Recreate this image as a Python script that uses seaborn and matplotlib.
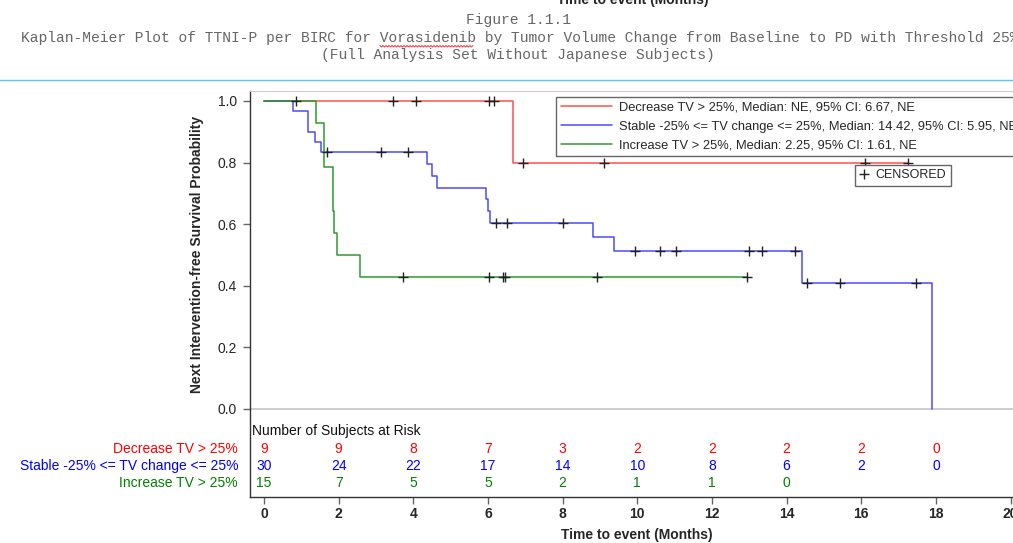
import numpy as np
import pandas as pd
import matplotlib
matplotlib.use("Agg")
import matplotlib.pyplot as plt
import matplotlib.transforms as mtransforms
from matplotlib.lines import Line2D
import seaborn as sns

# ---------------- data ----------------
groups = ["Decrease TV > 25%", "Stable -25% <= TV change <= 25%", "Increase TV > 25%"]
legend_labels = [
    "Decrease TV > 25%, Median: NE, 95% CI: 6.67, NE",
    "Stable -25% <= TV change <= 25%, Median: 14.42, 95% CI: 5.95, NE",
    "Increase TV > 25%, Median: 2.25, 95% CI: 1.61, NE",
]

red_step_t = [0, 6.67, 17.24]
red_step_s = [1.0, 0.800, 0.800]
red_censor = [3.45, 4.07, 6.02, 6.16, 6.94, 9.10, 16.09, 17.24]

blue_step_t = [0, 0.77, 1.19, 1.36, 1.53, 4.37, 4.51, 4.64, 5.95, 5.99, 6.05, 8.82, 9.37, 14.41, 17.89]
blue_step_s = [1.0, 0.967, 0.900, 0.867, 0.833, 0.795, 0.757, 0.719, 0.681, 0.643, 0.605, 0.559, 0.512, 0.409, 0.0]
blue_censor = [1.68, 3.13, 3.86, 6.22, 6.51, 8.01, 9.93, 10.60, 11.05, 12.99, 13.34, 14.23, 14.55, 15.44, 17.47]

green_step_t = [0, 1.39, 1.62, 1.84, 1.88, 1.95, 2.58, 12.93]
green_step_s = [1.0, 0.929, 0.786, 0.643, 0.571, 0.500, 0.429, 0.429]
green_censor = [0.86, 3.72, 6.02, 6.40, 6.45, 8.92, 12.93]

risk_times = [0, 2, 4, 6, 8, 10, 12, 14, 16, 18]
red_risk = [9, 9, 8, 7, 3, 2, 2, 2, 2, 0]
blue_risk = [30, 24, 22, 17, 14, 10, 8, 6, 2, 0]
green_risk = [15, 7, 5, 5, 2, 1, 1, 0]

x_ticks = list(range(0, 21, 2))
y_ticks = [0.0, 0.2, 0.4, 0.6, 0.8, 1.0]

# ---------------- style ----------------
sns.set_style("ticks")
plt.rcParams["font.family"] = ["Liberation Sans", "DejaVu Sans"]

line_colors = ["#ff5050", "#4a4aff", "#2e9a2e"]
text_colors = ["#ff0000", "#0000ff", "#008000"]

W, H = 1013, 543
fig = plt.figure(figsize=(W / 100, H / 100), dpi=100)

# axes placement in pixels
ax_left, ax_right, ax_top, ax_bottom = 249.5, 1025, 91, 497
ax = fig.add_axes([ax_left / W, 1 - ax_bottom / H, (ax_right - ax_left) / W, (ax_bottom - ax_top) / H])

px_per_month = 37.33
x0_px = 264
ax.set_xlim((ax_left - x0_px) / px_per_month, (ax_right - x0_px) / px_per_month)
px_per_unit = 308
y0_px = 409
ax.set_ylim(-(ax_bottom - y0_px) / px_per_unit, 1 + (y0_px - px_per_unit - ax_top) / px_per_unit)

ax.axhline(0, color="#c8c8c8", lw=1.3, zorder=1)

steps = [(red_step_t, red_step_s), (blue_step_t, blue_step_s), (green_step_t, green_step_s)]
censors = [red_censor, blue_censor, green_censor]

for (t, s), col in zip(steps, line_colors):
    df = pd.DataFrame({"t": t, "s": s})
    sns.lineplot(data=df, x="t", y="s", ax=ax, drawstyle="steps-post", estimator=None,
                 sort=False, color=col, lw=1.1, zorder=3)

for (t, s), c in zip(steps, censors):
    idx = np.searchsorted(np.array(t), np.array(c), side="right") - 1
    yy = np.array(s)[idx]
    sns.scatterplot(x=c, y=yy, ax=ax, marker="+", color="#222222", s=45, linewidth=1.0, zorder=5)

# axes styling
ax.set_xticks(x_ticks)
ax.set_xticklabels([str(v) for v in x_ticks], fontweight="bold", fontsize=10)
ax.set_yticks(y_ticks)
ax.set_yticklabels([f"{v:.1f}" for v in y_ticks], fontsize=10)
ax.tick_params(axis="both", direction="out", length=5, width=1, color="#666666", pad=4)
ax.tick_params(axis="x", pad=2.5)
for side in ["left", "bottom"]:
    ax.spines[side].set_color("#333333")
    ax.spines[side].set_linewidth(1.0)
ax.spines["top"].set_color("#cccccc")
ax.spines["right"].set_color("#cccccc")
ax.set_xlabel("Time to event (Months)", fontweight="bold", fontsize=10, labelpad=5)
ax.set_ylabel("")
fig.text(197 / W, 1 - 254 / H, "Next Intervention-free Survival Probability", rotation=90,
         ha="center", va="center", fontweight="bold", fontsize=10)

# at-risk table
ax.text((252 - x0_px) / px_per_month, -(431 - y0_px) / px_per_unit, "Number of Subjects at Risk",
        ha="left", va="center", fontsize=10, color="#111111")
row_y = [-(449 - y0_px) / px_per_unit, -(466 - y0_px) / px_per_unit, -(483 - y0_px) / px_per_unit]
trans = mtransforms.blended_transform_factory(ax.transAxes, ax.transData)
label_x = (238 - ax_left) / (ax_right - ax_left)
for g, yv, col, counts in zip(groups, row_y, text_colors, [red_risk, blue_risk, green_risk]):
    ax.text(label_x, yv, g, transform=trans, ha="right", va="center", color=col, fontsize=10, clip_on=False)
    for tt, n in zip(risk_times, counts):
        ax.text(tt, yv, str(n), ha="center", va="center", color=col, fontsize=10)

# legends
handles = [Line2D([0], [0], color=c, lw=1.1) for c in line_colors]
leg = ax.legend(handles, legend_labels, loc="upper left", bbox_to_anchor=(556 / W, 1 - 97 / H),
                bbox_transform=fig.transFigure, borderaxespad=0, fontsize=9.3, handlelength=4.0,
                handletextpad=0.5, labelspacing=0.55, borderpad=0.35, frameon=True, fancybox=False,
                framealpha=1, edgecolor="#666666")
leg.get_frame().set_linewidth(1.0)
ax.add_artist(leg)
cen_handle = Line2D([0], [0], marker="+", color="#222222", lw=0, markersize=7, markeredgewidth=1.0)
leg2 = ax.legend([cen_handle], ["CENSORED"], loc="upper left", bbox_to_anchor=(855 / W, 1 - 165 / H),
                 bbox_transform=fig.transFigure, borderaxespad=0, fontsize=9, handlelength=0.8,
                 handletextpad=0.5, borderpad=0.35, frameon=True, fancybox=False, framealpha=1,
                 edgecolor="#666666")
leg2.get_frame().set_linewidth(1.0)

# page headers
fig.text(633 / W, 1.0, "Time to event (Months)", ha="center", va="center", fontweight="bold", fontsize=10)
mono = dict(family=["Liberation Mono", "DejaVu Sans Mono"], fontsize=10.5, color="#666666",
            ha="center", va="center")
fig.text(518 / W, 1 - 20 / H, "Figure 1.1.1", **mono)
fig.text(520 / W, 1 - 38 / H,
         "Kaplan-Meier Plot of TTNI-P per BIRC for Vorasidenib by Tumor Volume Change from Baseline to PD with Threshold 25%",
         **mono)
fig.text(518 / W, 1 - 55 / H, "(Full Analysis Set Without Japanese Subjects)", **mono)

# spell-check squiggle under "Vorasidenib" (decorative)
zx = np.arange(380, 474, 1.5)
zy = np.where(np.arange(len(zx)) % 2 == 0, 45.5, 47.0)
fig.add_artist(Line2D(zx / W, 1 - zy / H, color="#ff3030", lw=0.7, transform=fig.transFigure))

# separator line
fig.add_artist(Line2D([0, 1], [1 - 80 / H, 1 - 80 / H], color="#5ec4ec", lw=1.0, transform=fig.transFigure))

fig.savefig("out.png", dpi=100)
